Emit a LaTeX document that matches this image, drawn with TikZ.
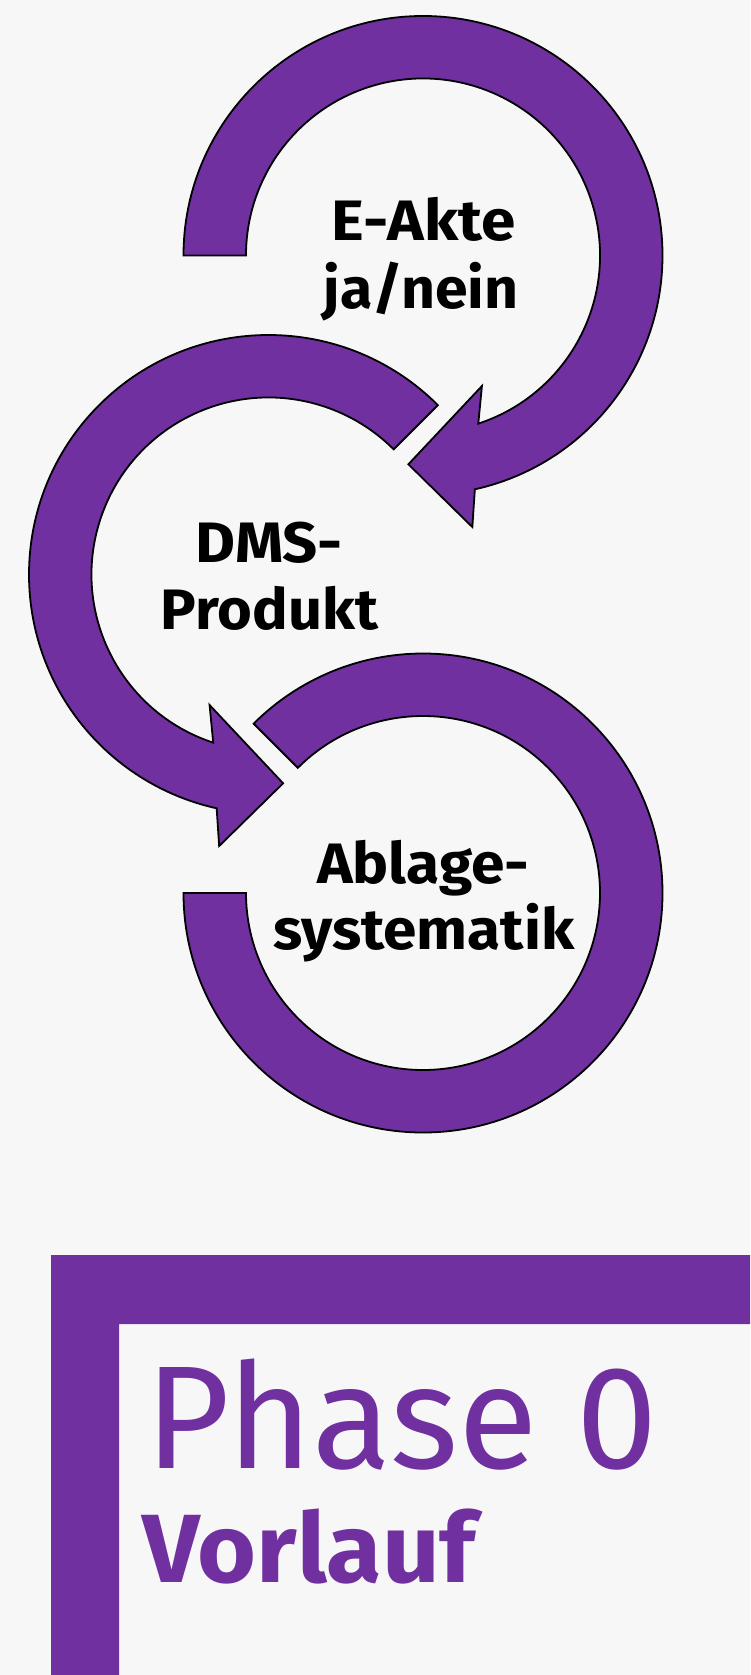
\documentclass[tikz,border=0pt]{standalone}
\usepackage{fontspec}
\usepackage{graphicx}
\setmainfont{Fira Sans}
\newfontfamily\firab{Fira Sans}
\definecolor{purp}{HTML}{7030A0}
\definecolor{bg}{HTML}{F7F7F7}
\newcommand{\fitw}[2]{\resizebox{#1}{\height}{#2}}
\newcommand{\ringtxt}{\firab\bfseries\fontsize{57}{57}\selectfont}
\begin{document}
\begin{tikzpicture}[x=1pt,y=-1pt,
  ring/.style={fill=purp, draw=black, line width=1.8pt, line join=miter},
  lbl/.style={anchor=base, inner sep=0pt, outer sep=0pt, text=black},
  phase/.style={anchor=base, inner sep=0pt, outer sep=0pt, text=purp}]
\useasboundingbox (0,0) rectangle (750,1675);
\fill[bg] (0,0) rectangle (750,1675);

% ring 1 (E-Akte)
\begin{scope}[shift={(423,255.5)}]
\draw[ring] (180:239.5) arc[start angle=180, end angle=437.5, radius=239.5]
  -- (79.7:276) -- (94:209.3) -- (65.7:143.2) -- (71.8:177)
  arc[start angle=431.8, end angle=180, radius=177] -- cycle;
\end{scope}

% ring 2 (DMS-Produkt)
\begin{scope}[shift={(268.5,574.5)}]
\draw[ring] (-45:239.5) arc[start angle=-45, end angle=-257.5, radius=239.5]
  -- (100.3:276) -- (86:209.3) -- (114.3:143.2) -- (108.2:177)
  arc[start angle=-251.8, end angle=-45, radius=177] -- cycle;
\end{scope}

% ring 3 (Ablagesystematik)
\begin{scope}[shift={(423,893)}]
\draw[ring] (180:239.5) arc[start angle=180, end angle=-135, radius=239.5]
  -- (-135:177) arc[start angle=-135, end angle=180, radius=177] -- cycle;
\end{scope}

% ring labels
\node[lbl] (t1a) at (423.7,240) {\fitw{184pt}{\ringtxt E-Akte}};
\node[lbl] (t1b) at (421,308.3) {\fitw{195pt}{\ringtxt ja/nein}};
\node[lbl] (t2a) at (269.2,562) {\fitw{147pt}{\ringtxt DMS-}};
\node[lbl] (t2b) at (269.5,629) {\fitw{217pt}{\ringtxt Produkt}};
\node[lbl] (t3a) at (423,883.3) {\fitw{212pt}{\ringtxt Ablage-}};
\node[lbl] (t3b) at (423.9,949.3) {\fitw{301pt}{\ringtxt systematik}};

% L-shaped frame
\fill[purp] (51,1255) -- (750,1255) -- (750,1324) -- (119,1324) -- (119,1675) -- (51,1675) -- cycle;

\node[phase] (ph) at (401.5,1468) {\fitw{512pt}{\firab\fontsize{146.6}{146.6}\selectfont Phase 0}};
\node[phase] (vl) at (309.3,1582.7) {\fitw{333pt}{\firab\bfseries\fontsize{97}{97}\selectfont Vorlauf}};
\end{tikzpicture}
\end{document}
